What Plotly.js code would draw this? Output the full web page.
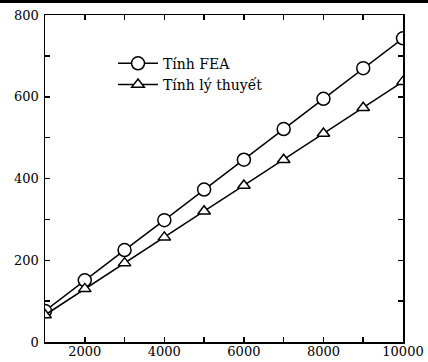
<!DOCTYPE html>
<html>
<head>
<meta charset="utf-8">
<script src="https://cdn.plot.ly/plotly-3.0.1.min.js"></script>
<style>html,body{margin:0;padding:0;background:#fff;}#chart{width:428px;height:362px;}</style>
</head>
<body>
<div id="chart"></div>
<script>
const xValues = [1000, 2000, 3000, 4000, 5000, 6000, 7000, 8000, 9000, 10000];
const feaValues = [76, 151, 225, 298, 373, 446, 521, 595, 670, 743];
const theoryValues = [66, 130, 193, 256, 320, 383, 446, 510, 573, 637];
const seriesNames = ["Tính FEA", "Tính lý thuyết"];
const xTickVals = [2000, 4000, 6000, 8000, 10000];
const yTickVals = [0, 200, 400, 600, 800];

const tickFont = {family: "DejaVu Serif", size: 13, color: "#000"};
const legendFont = {family: "DejaVu Serif", size: 14, color: "#000"};

const traces = [
  {x: xValues, y: feaValues, name: seriesNames[0], mode: "lines+markers",
   line: {color: "#000", width: 1.5},
   marker: {symbol: "circle", size: 13, color: "#fff", line: {color: "#000", width: 1.5}}},
  {x: xValues, y: theoryValues, name: seriesNames[1], mode: "lines+markers",
   line: {color: "#000", width: 1.5},
   marker: {symbol: "triangle-up", size: 11, color: "#fff", line: {color: "#000", width: 1.5}}}
];

const axisCommon = {
  showgrid: false, zeroline: false, showline: true, linecolor: "#000", linewidth: 1.5,
  mirror: "ticks", ticks: "inside", ticklen: 5, tickwidth: 1.5, tickcolor: "#000",
  tickfont: tickFont
};

const layout = {
  width: 428, height: 362,
  margin: {l: 45, r: 25, t: 15, b: 20},
  paper_bgcolor: "#fff", plot_bgcolor: "#fff",
  font: tickFont,
  showlegend: true,
  legend: {x: 0.19, y: 0.9, xanchor: "left", yanchor: "top", bgcolor: "rgba(0,0,0,0)",
           font: legendFont, tracegroupgap: 0, itemwidth: 40},
  xaxis: Object.assign({}, axisCommon, {
    range: [1000, 10000], tickmode: "array", tickvals: xTickVals,
    ticktext: xTickVals.map(String), ticklabelstandoff: -3,
    minor: {dtick: 1000, tick0: 0, ticks: "inside", ticklen: 5, tickwidth: 1.5, tickcolor: "#000"}
  }),
  yaxis: Object.assign({}, axisCommon, {
    range: [0, 800], tickmode: "array", tickvals: yTickVals,
    ticktext: yTickVals.map(String), ticklabelstandoff: 2,
    minor: {dtick: 100, tick0: 0, ticks: "inside", ticklen: 5, tickwidth: 1.5, tickcolor: "#000"}
  }),
  shapes: [
    {type: "rect", xref: "paper", yref: "paper", x0: -0.13, x1: 1.08, y0: 1.037, y1: 1.05,
     fillcolor: "#000", line: {width: 0}, layer: "above"}
  ]
};

Plotly.newPlot("chart", traces, layout, {staticPlot: true, displayModeBar: false});
</script>
</body>
</html>
